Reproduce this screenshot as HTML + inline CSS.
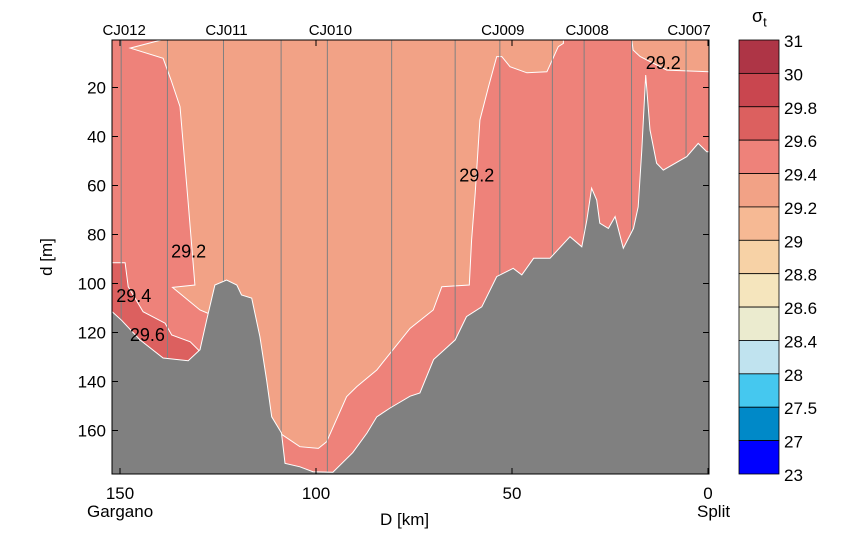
<!DOCTYPE html>
<html><head><meta charset="utf-8"><style>
body{margin:0;background:#fff;}
svg{display:block;font-family:"Liberation Sans",sans-serif;}
</style></head><body>
<svg id="c" width="860" height="533" viewBox="0 0 860 533"></svg>
<script>
// ---- data ----
const bathyD = [153,152,149.6,144.9,139,132.6,129.6,127.9,125.8,122.8,120.2,119,116.4,114.3,112.6,111.3,108.8,107.9,104.1,100.8,95.7,90.6,87,84.5,81.1,76,73.5,70,64.5,61.6,57.7,53.9,49.7,47.5,44.5,40.3,35.2,32.2,30.9,29.7,28.4,27.6,25.4,23.7,21.6,19,17.8,16.9,15.9,14.8,13.1,11.4,5.4,2.5,0.3,-0.3];
const bathyDepth = [111.5,111.5,115,123,130.4,131.5,127,115,100.6,98.6,100.6,104.7,106,121.7,139.4,154.4,161,173.4,174.8,176.8,177,169,161,154.4,150.8,146,144.7,131,123,113.5,109.5,97.2,93.8,96.5,89.7,89.7,80.9,85,74,61.1,65.9,75.4,77.5,72.7,85.6,77.5,68.7,45.5,14.9,37.3,50.9,53.7,48.2,42.8,46.2,46.2];
const stationNames = ["CJ012","","CJ011","","CJ010","","","CJ009","","CJ008","","CJ007"];
const stationD = [149.7,137.9,123.6,108.9,97.1,80.7,64.5,53.1,39.7,31.6,19.5,5.6];
const leftHighD = [153,138,147.4,139,137,134.7,132.6,130.9,136.6,129.6,127.5,126.5,126.5,153];
const leftHighDepth = [0,0,3.9,8.1,16.9,27.8,67.1,100.6,101.6,110.8,112.2,119,180,180];
const leftHigherD = [153,148.7,147.9,144.1,138.5,136.8,132.1,130,128.8,128.8,153];
const leftHigherDepth = [91.5,91.5,101.3,111.5,116.2,121,123.8,127.1,131.2,180,180];
const centerHighD = [109.7,109.2,104.1,99.4,97.3,92.2,89.6,84.5,81.1,76,70.1,67.9,60.9,60.3,59.4,58.2,56,53.9,52.6,50.5,46.2,41.1,38.2,36.9,36.9,19.5,19.1,17.3,10.5,-0.3,-0.3];
const centerHighDepth = [180,161.1,166.6,167.3,164.6,146.2,142.1,135.3,128.5,118.3,110.8,101.3,100.6,82.2,63.2,33.3,19.7,7.4,7.4,11.5,14,13.6,3.3,2,0,0,4.7,7.4,12.9,13.6,180];
const xTicks = [150,100,50,0];
const yTicks = [20,40,60,80,100,120,140,160];
const cbLabels = ["31","30","29.8","29.6","29.4","29.2","29","28.8","28.6","28.4","28","27.5","27","23"];
const cbColors = ["#ae3546","#c9464f","#dc605f","#ee827a","#f2a286","#f6b994","#f7d2a6","#f5e5bd","#ebebcf","#c0e3ef","#45c8ef","#0089c8","#0000ff"];
const contourLabels = ["29.2","29.4","29.6","29.2","29.2"];
const contourLabelD = [132.5,146.5,143,59,11.4];
const contourLabelDepth = [87,105,121,56,10];

// ---- axes ----
const PL=112,PR=709,PT=40,PB=474;
const X=d=>708-3.92*d;
const Y=v=>38.5+2.45*v;
const NS="http://www.w3.org/2000/svg";
const svg=document.getElementById('c');
function mk(tag,attrs,parent){const e=document.createElementNS(NS,tag);for(const k in attrs)e.setAttribute(k,attrs[k]);(parent||svg).appendChild(e);return e;}
const defs=mk('defs',{});
const cp=mk('clipPath',{id:'plotclip'},defs);
mk('rect',{x:PL,y:PT,width:PR-PL,height:PB-PT},cp);
const g=mk('g',{'clip-path':'url(#plotclip)'});


const bg=mk('rect',{x:PL,y:PT,width:PR-PL,height:PB-PT,fill:'#f2a286'},g);


function poly(ds,vs,fill,name){
  const pts=ds.map((d,i)=>X(d).toFixed(1)+','+Y(vs[i]).toFixed(1)).join(' ');
  const p=mk('polygon',{points:pts,fill:fill,stroke:'#fff','stroke-width':1},g);
  
  
}
poly(leftHighD,leftHighDepth,'#ee827a','density-29-4-region-left');
poly(leftHigherD,leftHigherDepth,'#dc605f','density-29-6-region-left');
poly(centerHighD,centerHighDepth,'#ee827a','density-29-4-region-center');
function bathyAt(d){for(let i=0;i<bathyD.length-1;i++){const a=bathyD[i],b=bathyD[i+1];if((d<=a&&d>=b)){const t=(a-d)/(a-b||1);return bathyDepth[i]+t*(bathyDepth[i+1]-bathyDepth[i]);}}return 180;}
stationD.forEach((d,i)=>{
  const l=mk('line',{x1:X(d),x2:X(d),y1:PT,y2:Y(bathyAt(d)),stroke:'#808080','stroke-width':1},g);
  
  
});
poly(bathyD.concat([-0.3,153]),bathyDepth.concat([180,180]),'#808080','bathymetry');
contourLabels.forEach((t,i)=>{
  const e=mk('text',{x:X(contourLabelD[i]),y:Y(contourLabelDepth[i])+6,'font-size':18,'text-anchor':'middle',fill:'#000'},svg);
  e.textContent=t;
  
  
});
const frame=mk('rect',{x:PL,y:PT,width:PR-PL,height:PB-PT,fill:'none',stroke:'#000','stroke-width':1});


xTicks.forEach(v=>{
  const x=X(v);
  mk('line',{x1:x,x2:x,y1:PB,y2:PB-6,stroke:'#000'});
  mk('line',{x1:x,x2:x,y1:PT,y2:PT+6,stroke:'#000'});
  const e=mk('text',{x:x,y:499,'font-size':17,'text-anchor':'middle'});
  e.textContent=v;
  
  
});
yTicks.forEach(v=>{
  const y=Y(v);
  mk('line',{x1:PL,x2:PL+6,y1:y,y2:y,stroke:'#000'});
  mk('line',{x1:PR,x2:PR-6,y1:y,y2:y,stroke:'#000'});
  const e=mk('text',{x:106,y:y+6,'font-size':17,'text-anchor':'end'});
  e.textContent=v;
  
  
});
stationNames.forEach((n,i)=>{
  if(!n)return;
  const e=mk('text',{x:X(stationD[i])+3,y:35,'font-size':15,'text-anchor':'middle'});
  e.textContent=n;
  
  
});
// colorbar
const cbX=739,cbW=40,cbT=40,cbH=(474-40)/13;
cbColors.forEach((c,i)=>{
  const r=mk('rect',{x:cbX,y:cbT+i*cbH,width:cbW,height:cbH,fill:c,stroke:'#000','stroke-width':0.8});
  
  
});
cbLabels.forEach((t,i)=>{
  const e=mk('text',{x:784,y:cbT+i*cbH+7,'font-size':17});
  e.textContent=t;
  
  
});
</script>
<div style="position:absolute;left:0;top:0;width:860px;height:533px;pointer-events:none;font-family:'Liberation Sans',sans-serif;">
  <div style="position:absolute;left:752px;top:6px;font-size:18px;">σ<sub style="font-size:13px">t</sub></div>
  <div style="position:absolute;left:380px;top:510px;font-size:17px;">D [km]</div>
  <div style="position:absolute;left:87px;top:502px;font-size:17px;">Gargano</div>
  <div style="position:absolute;left:697px;top:502px;font-size:17px;">Split</div>
  <div style="position:absolute;left:28px;top:247px;font-size:17px;transform:rotate(-90deg);transform-origin:center;">d [m]</div>
</div>
</body></html>
